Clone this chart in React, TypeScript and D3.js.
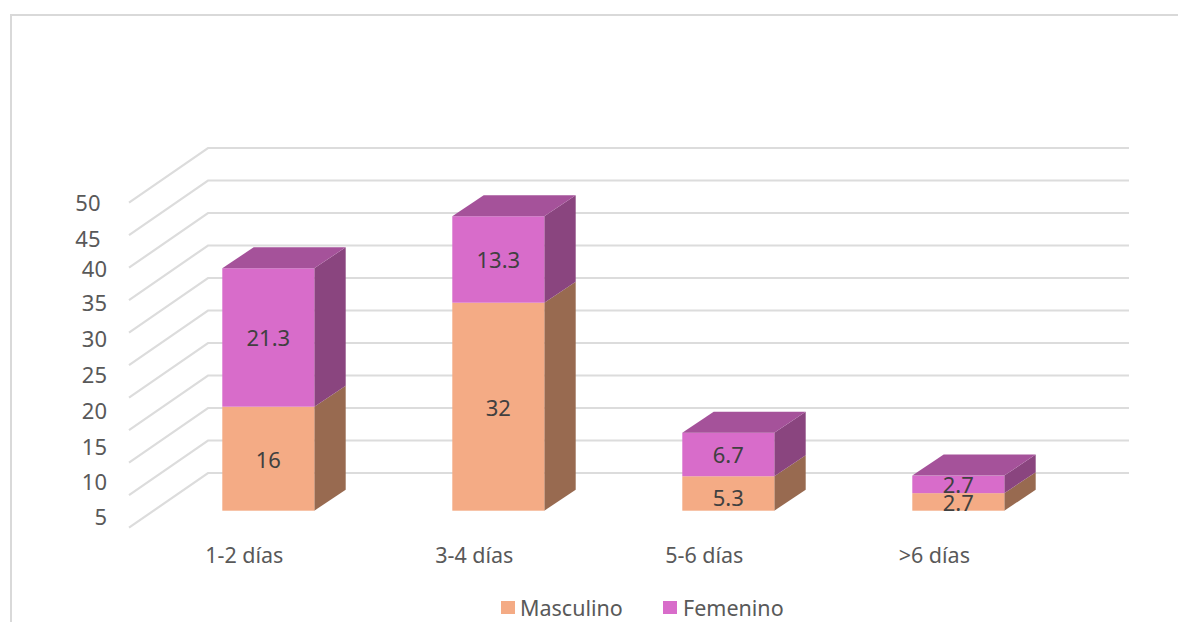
import React from "react";
import * as d3 from "d3";

// Share of respondents by number of days, stacked by sex
const categories = ["1-2 días", "3-4 días", "5-6 días", ">6 días"];
const masculino = [16, 32, 5.3, 2.7];
const femenino = [21.3, 13.3, 6.7, 2.7];
const gridValues = [0, 5, 10, 15, 20, 25, 30, 35, 40, 45, 50];
const tickLabels = ["5", "10", "15", "20", "25", "30", "35", "40", "45", "50"];

const FONT = "'Noto Sans', sans-serif";
const ORANGE = { front: "#f4ab85", side: "#986a50" };
const PURPLE = { front: "#d86cca", side: "#8a457f", top: "#a5529a" };

// Oblique projection of the 3D box: depth is drawn up and to the right
const floorFront = { x: 129, y: 527.7 };
const floorDepth = { dx: 79, dy: -54.7 };
const barDepth = { dx: 31.4, dy: -21 };
const gridRight = 1129;
const barBase = 510.7;
const barWidth = 92;

const heightOf = d3.scaleLinear().domain([0, 50]).range([0, 325]);
const xBand = d3.scalePoint<string>().domain(categories).range([222.3, 912.3]);

// Printed axis labels sit on their own ladder, slightly apart from the gridlines
const tickY = d3
  .scaleLinear()
  .domain([5, 10, 15, 20, 25, 30, 35, 40, 45, 50])
  .range([517.3, 481.7, 446.7, 411, 375, 339.3, 303.3, 269, 239, 202.7]);

const polyline = d3.line<[number, number]>();

function Segment({ x, y0, y1, colors }: { x: number; y0: number; y1: number; colors: { front: string; side: string } }) {
  const r = x + barWidth;
  const { dx, dy } = barDepth;
  const side = polyline([[r, y0], [r + dx, y0 + dy], [r + dx, y1 + dy], [r, y1]]) + "Z";
  return (
    <g>
      <path d={side} fill={colors.side} />
      <rect x={x} y={y1} width={barWidth} height={y0 - y1} fill={colors.front} />
    </g>
  );
}

export default function App() {
  const { dx, dy } = barDepth;
  const digitShift = 8;
  const textSize = 22;
  return (
    <svg
      width={1178}
      height={622}
      viewBox="0 0 1178 622"
      style={{ position: "absolute", left: 0, top: 0, background: "#fff" }}
      fontFamily={FONT}
    >
      {/* Chart frame: only the top and left edges fall inside the view */}
      <path d="M1178,15H11V622" fill="none" stroke="#d9d9d9" strokeWidth={2} />

      {/* Gridlines run along the side wall and then across the back wall */}
      {gridValues.map((v) => {
        const h = heightOf(v);
        const a: [number, number] = [floorFront.x, floorFront.y - h];
        const b: [number, number] = [floorFront.x + floorDepth.dx, floorFront.y + floorDepth.dy - h];
        const c: [number, number] = [gridRight, b[1]];
        return <path key={v} d={polyline([a, b, c])!} fill="none" stroke="#dcdcdc" strokeWidth={2.2} />;
      })}

      {tickLabels.map((t) => (
        <text
          key={t}
          x={+t >= 45 ? 100.5 : 107}
          y={tickY(+t) + digitShift}
          textAnchor="end"
          fontSize={textSize}
          fill="#595959"
        >
          {t}
        </text>
      ))}

      {categories.map((c, i) => {
        const x = xBand(c)!;
        const yMid = barBase - heightOf(masculino[i]);
        const yTop = yMid - heightOf(femenino[i]);
        const top = polyline([[x, yTop], [x + dx, yTop + dy], [x + barWidth + dx, yTop + dy], [x + barWidth, yTop]]) + "Z";
        const cx = x + barWidth / 2;
        // The 5.3 label is pushed down inside its short segment
        const lowerNudge = masculino[i] === 5.3 ? 5 : 1;
        return (
          <g key={c}>
            <Segment x={x} y0={barBase} y1={yMid} colors={ORANGE} />
            <Segment x={x} y0={yMid} y1={yTop} colors={PURPLE} />
            <path d={top} fill={PURPLE.top} />
            <text x={cx} y={(barBase + yMid) / 2 + digitShift + lowerNudge} textAnchor="middle" fontSize={textSize} fill="#404040">
              {masculino[i]}
            </text>
            <text x={cx} y={(yMid + yTop) / 2 + digitShift + 1} textAnchor="middle" fontSize={textSize} fill="#404040">
              {femenino[i]}
            </text>
            <text x={x + 22} y={562.5} textAnchor="middle" fontSize={21.5} fill="#595959">
              {c}
            </text>
          </g>
        );
      })}

      {/* Legend */}
      <rect x={501} y={601} width={14} height={13} fill={ORANGE.front} />
      <text x={520} y={616} fontSize={21.5} fill="#595959">Masculino</text>
      <rect x={663} y={601} width={14} height={13} fill={PURPLE.front} />
      <text x={683} y={616} fontSize={21.5} fill="#595959">Femenino</text>
    </svg>
  );
}
